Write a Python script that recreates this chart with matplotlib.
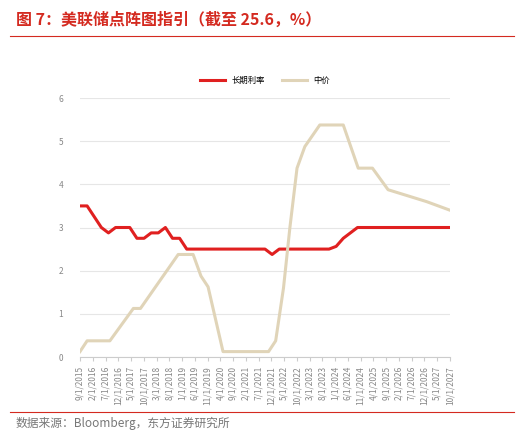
import matplotlib.pyplot as plt
import numpy as np

plt.rcParams['font.family'] = ['Noto Sans CJK SC', 'DejaVu Sans']

tick_labels = ["9/1/2015", "2/1/2016", "7/1/2016", "12/1/2016", "5/1/2017", "10/1/2017",
               "3/1/2018", "8/1/2018", "1/1/2019", "6/1/2019", "11/1/2019", "4/1/2020",
               "9/1/2020", "2/1/2021", "7/1/2021", "12/1/2021", "5/1/2022", "10/1/2022",
               "3/1/2023", "8/1/2023", "1/1/2024", "6/1/2024", "11/1/2024", "4/1/2025",
               "9/1/2025", "2/1/2026", "7/1/2026", "12/1/2026", "5/1/2027", "10/1/2027"]

# positions, on a 0..52 scale spanning the whole axis
long_x = [0, 1, 3, 4, 5, 7, 8, 9, 10, 11, 12, 13, 14, 15, 26, 27, 28, 35, 36, 37, 39, 52]
long_y = [3.5, 3.5, 3.0, 2.875, 3.0, 3.0, 2.75, 2.75, 2.875, 2.875, 3.0, 2.75, 2.75, 2.5,
          2.5, 2.375, 2.5, 2.5, 2.5625, 2.75, 3.0, 3.0]
med_x = [0, 1, 4.2, 7.5, 8.5, 13.8, 15.9, 17, 18, 20.1, 26.5, 27.5, 28.6, 29.5, 30.5,
         31.6, 33.7, 37, 39.1, 41.1, 43.3, 48.7, 52]
med_y = [0.125, 0.375, 0.375, 1.125, 1.125, 2.375, 2.375, 1.875, 1.625, 0.125, 0.125, 0.375,
         1.6, 3.0, 4.375, 4.875, 5.375, 5.375, 4.375, 4.375, 3.875, 3.6, 3.4]

n = len(tick_labels) - 1
scale = n / 52

fig = plt.figure(figsize=(5.24, 4.36), dpi=100)
ax = fig.add_axes([80 / 524, 1 - 357 / 436, 370 / 524, 259 / 436])

ax.plot(np.array(long_x) * scale, long_y, color="#e02020", lw=2.2, label="长期利率")
ax.plot(np.array(med_x) * scale, med_y, color="#e0d4b8", lw=2.2, label="中价")

ax.set_xlim(0, n)
ax.set_ylim(0, 6)
ax.set_xticks(range(n + 1))
ax.set_xticklabels(tick_labels, rotation=90, fontsize=6, color="#888888")
ax.set_yticks(range(7))
ax.tick_params(axis="y", length=0, labelsize=6, colors="#888888", pad=12)
ax.tick_params(axis="x", length=3, color="#cccccc", colors="#888888")
ax.grid(axis="y", color="#e6e6e6", lw=0.8)
for s in ["top", "right", "left"]:
    ax.spines[s].set_visible(False)
ax.spines["bottom"].set_color("#cccccc")
ax.legend(loc="lower center", bbox_to_anchor=(0.5, 1.02), ncol=2, frameon=False,
          fontsize=6, handlelength=3)

fig.text(0.03, 0.955, "图 7：美联储点阵图指引（截至 25.6，%）", color="#d42a20",
         fontsize=11.5, fontweight="bold", va="center")
fig.add_artist(plt.Line2D([0.02, 0.98], [0.918, 0.918], color="#d42a20", lw=0.8))
fig.add_artist(plt.Line2D([0.02, 0.98], [0.055, 0.055], color="#d42a20", lw=0.8))
fig.text(0.03, 0.045, "数据来源：Bloomberg，东方证券研究所", color="#777777",
         fontsize=8.5, va="top")

fig.savefig("out.png", dpi=100)
